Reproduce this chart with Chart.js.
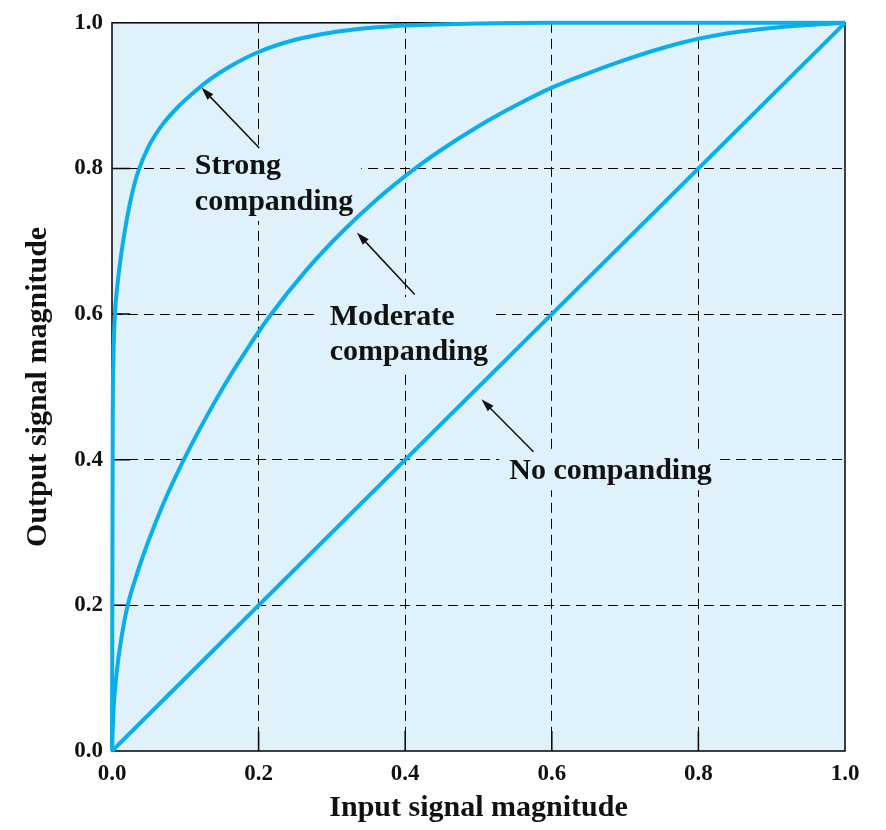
<!DOCTYPE html>
<html>
<head>
<meta charset="utf-8">
<script src="https://cdn.jsdelivr.net/npm/chart.js@4/dist/chart.umd.min.js"></script>
<style>
  html, body { margin: 0; padding: 0; background: #fff; }
  #wrap { width: 886px; height: 830px; }
</style>
</head>
<body>
<div id="wrap"><canvas id="chart" width="886" height="830"></canvas></div>
<script>
// values
const strongX = [0, 0.001, 0.002, 0.004, 0.007, 0.013, 0.02, 0.025, 0.03, 0.036, 0.05, 0.068, 0.09, 0.113, 0.135, 0.159, 0.2, 0.25, 0.3, 0.35, 0.4, 0.5, 0.6, 0.8, 1.0];
const strongY = [0, 0.45, 0.54, 0.6, 0.636, 0.685, 0.729, 0.7548, 0.7763, 0.7967, 0.8303, 0.8591, 0.8844, 0.9058, 0.9232, 0.939, 0.9599, 0.9767, 0.9867, 0.9927, 0.9962, 0.9992, 1.0, 1.0, 1.0];
const moderateX = [0, 0.002, 0.006, 0.012, 0.0214, 0.035, 0.05, 0.07, 0.097, 0.125, 0.155, 0.185, 0.215, 0.264, 0.313, 0.362, 0.411, 0.45, 0.5, 0.55, 0.6, 0.65, 0.7, 0.75, 0.8, 0.85, 0.9, 0.95, 1.0];
const moderateY = [0, 0.055, 0.104, 0.15, 0.2, 0.246, 0.289, 0.3395, 0.398, 0.452, 0.505, 0.553, 0.597, 0.659, 0.712, 0.758, 0.798, 0.826, 0.858, 0.886, 0.911, 0.931, 0.949, 0.965, 0.978, 0.987, 0.993, 0.997, 1.0];
const noneX = [0, 1];
const noneY = [0, 1];
const tickValues = [0, 0.2, 0.4, 0.6, 0.8, 1.0];

// annotation text, in data units (left, baselines), arrow tail -> head
const labels = [
  { lines: ['Strong', 'companding'], x: 0.113, y: [0.792, 0.743], tail: [0.201, 0.828], head: [0.122, 0.911] },
  { lines: ['Moderate', 'companding'], x: 0.297, y: [0.585, 0.537], tail: [0.413, 0.627], head: [0.334, 0.712] },
  { lines: ['No companding'], x: 0.542, y: [0.373], tail: [0.575, 0.411], head: [0.504, 0.483] }
];

const lineColor = '#0aaee8';
const bgColor = '#dff2fb';
const serif = '"Liberation Serif", "DejaVu Serif", serif';

const toPts = (xs, ys) => xs.map((x, i) => ({ x: x, y: ys[i] }));

const annotate = {
  id: 'annotate',
  beforeDraw(chart) {
    const { ctx, chartArea: a } = chart;
    ctx.save();
    ctx.fillStyle = bgColor;
    ctx.fillRect(a.left, a.top, a.right - a.left, a.bottom - a.top);
    ctx.restore();
  },
  beforeDatasetsDraw(chart) {
    const { ctx, chartArea: a, scales: { x, y } } = chart;
    ctx.save();
    // boxes behind the labels hide the grid
    ctx.font = 'bold 30px ' + serif;
    ctx.fillStyle = bgColor;
    labels.forEach(l => {
      const w = Math.max(...l.lines.map(s => ctx.measureText(s).width));
      const left = x.getPixelForValue(l.x);
      const top = y.getPixelForValue(l.y[0]) - 26;
      const bottom = y.getPixelForValue(l.y[l.y.length - 1]) + 9;
      ctx.fillRect(left - 10, top - 2, w + 18, bottom - top + 4);
    });
    // inner tick marks
    ctx.strokeStyle = '#000';
    ctx.lineWidth = 1.5;
    ctx.beginPath();
    tickValues.slice(1, -1).forEach(v => {
      const py = y.getPixelForValue(v);
      ctx.moveTo(a.left, py); ctx.lineTo(a.left + 18, py);
      const px = x.getPixelForValue(v);
      ctx.moveTo(px, a.bottom); ctx.lineTo(px, a.bottom - 20);
    });
    ctx.stroke();
    // frame
    ctx.lineWidth = 1.5;
    ctx.strokeRect(a.left, a.top, a.right - a.left, a.bottom - a.top);
    ctx.restore();
  },
  afterDatasetsDraw(chart) {
    const { ctx, scales: { x, y } } = chart;
    ctx.save();
    ctx.font = 'bold 30px ' + serif;
    ctx.fillStyle = '#111';
    ctx.textBaseline = 'alphabetic';
    labels.forEach(l => {
      l.lines.forEach((s, i) => ctx.fillText(s, x.getPixelForValue(l.x), y.getPixelForValue(l.y[i])));
      const tx = x.getPixelForValue(l.tail[0]), ty = y.getPixelForValue(l.tail[1]);
      const hx = x.getPixelForValue(l.head[0]), hy = y.getPixelForValue(l.head[1]);
      const ang = Math.atan2(hy - ty, hx - tx);
      ctx.strokeStyle = '#111';
      ctx.lineWidth = 1.5;
      ctx.beginPath();
      ctx.moveTo(tx, ty);
      ctx.lineTo(hx - 8 * Math.cos(ang), hy - 8 * Math.sin(ang));
      ctx.stroke();
      ctx.beginPath();
      ctx.moveTo(hx, hy);
      ctx.lineTo(hx - 13 * Math.cos(ang) + 4 * Math.sin(ang), hy - 13 * Math.sin(ang) - 4 * Math.cos(ang));
      ctx.lineTo(hx - 13 * Math.cos(ang) - 4 * Math.sin(ang), hy - 13 * Math.sin(ang) + 4 * Math.cos(ang));
      ctx.closePath();
      ctx.fill();
    });
    ctx.restore();
  }
};

const series = (data) => ({
  data: data,
  showLine: true,
  borderColor: lineColor,
  borderWidth: 4,
  pointRadius: 0,
  cubicInterpolationMode: 'monotone',
  clip: 4
});

const gridColor = (c) => (c.tick && (c.tick.value === 0 || c.tick.value === 1)) ? 'rgba(0,0,0,0)' : '#000';

new Chart(document.getElementById('chart'), {
  type: 'scatter',
  data: {
    datasets: [
      series(toPts(strongX, strongY)),
      series(toPts(moderateX, moderateY)),
      series(toPts(noneX, noneY))
    ]
  },
  options: {
    responsive: false,
    animation: false,
    events: [],
    layout: { padding: { left: 0, top: 19, right: 41, bottom: 0 } },
    plugins: { legend: { display: false }, tooltip: { enabled: false } },
    scales: {
      x: {
        type: 'linear', min: 0, max: 1,
        afterBuildTicks: s => { s.ticks = tickValues.map(v => ({ value: v })); },
        afterFit: s => { s.height = 79; },
        grid: { color: gridColor, lineWidth: 1, drawTicks: false },
        border: { display: false, dash: [10, 6] },
        ticks: { color: '#111', padding: 9, font: { family: serif, size: 23, weight: 'bold' }, callback: v => v.toFixed(1) },
        title: { display: true, text: 'Input signal magnitude', color: '#111', padding: { top: 0, bottom: 4 }, font: { family: serif, size: 30, weight: 'bold', lineHeight: 1.2 } }
      },
      y: {
        type: 'linear', min: 0, max: 1,
        afterBuildTicks: s => { s.ticks = tickValues.map(v => ({ value: v })); },
        afterFit: s => { s.width = 112; },
        grid: { color: gridColor, lineWidth: 1, drawTicks: false },
        border: { display: false, dash: [10, 6] },
        ticks: { color: '#111', padding: 9, font: { family: serif, size: 23, weight: 'bold' }, callback: v => v.toFixed(1) },
        title: { display: true, text: 'Output signal magnitude', color: '#111', padding: { top: 20, bottom: 0 }, font: { family: serif, size: 30, weight: 'bold', lineHeight: 1.2 } }
      }
    }
  },
  plugins: [annotate]
});
</script>
</body>
</html>
